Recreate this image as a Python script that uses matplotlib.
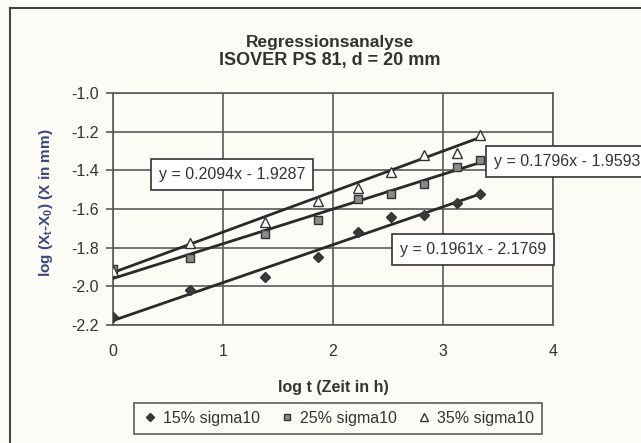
import matplotlib
matplotlib.use("Agg")
import matplotlib.pyplot as plt
from matplotlib.lines import Line2D
import numpy as np

plt.rcParams['font.family'] = ['Liberation Sans', 'DejaVu Sans']

# ---- data ----
log_t = [0.0, 0.70, 1.38, 1.86, 2.23, 2.53, 2.83, 3.13, 3.34]
y_15 = [-2.16, -2.02, -1.95, -1.85, -1.72, -1.64, -1.63, -1.57, -1.52]
y_25 = [-1.91, -1.855, -1.73, -1.655, -1.55, -1.52, -1.47, -1.385, -1.345]
y_35 = [-1.92, -1.775, -1.665, -1.56, -1.49, -1.41, -1.32, -1.31, -1.215]
series_names = ["15% sigma10", "25% sigma10", "35% sigma10"]
slopes = [0.1961, 0.1796, 0.2094]
intercepts = [-2.1769, -1.9593, -1.9287]
eq_labels = ["y = 0.1961x - 2.1769", "y = 0.1796x - 1.9593", "y = 0.2094x - 1.9287"]
x_ticks = [0, 1, 2, 3, 4]
y_ticks = [-1.0, -1.2, -1.4, -1.6, -1.8, -2.0, -2.2]

W, H = 641, 443
bg = "#fcfbf6"
dark = "#2a2a2a"
grid = "#5a5a5a"

fig = plt.figure(figsize=(W / 100, H / 100), dpi=100, facecolor=bg)
ax = fig.add_axes([113 / W, 1 - 325 / H, 440 / W, 232 / H], facecolor=bg)

ax.set_xlim(0, 4)
ax.set_ylim(-2.2, -1.0)
ax.set_xticks(x_ticks)
ax.set_yticks(y_ticks)
ax.set_xticklabels([str(v) for v in x_ticks])
ax.set_yticklabels([f"{v:.1f}" for v in y_ticks])
ax.grid(True, color=grid, lw=1.2)
ax.set_axisbelow(True)
for s in ax.spines.values():
    s.set_color(grid)
    s.set_linewidth(1.2)
ax.tick_params(axis='x', length=0, pad=14, labelsize=11.5, labelcolor="#333333")
ax.tick_params(axis='y', length=5, width=1.2, color=grid, pad=5, labelsize=11.5,
               labelcolor="#333333")

ys = [y_15, y_25, y_35]
markers = ['D', 's', '^']
msizes = [5, 6, 7.5]
faces = ["#3a3a3a", "#8a8a8a", "white"]

# trend lines
xl = np.array([min(log_t), max(log_t)])
for m, b in zip(slopes, intercepts):
    ax.plot(xl, m * xl + b, color=dark, lw=2.0, zorder=3)

handles = []
for y, mk, ms, fc, name in zip(ys, markers, msizes, faces, series_names):
    h, = ax.plot(log_t, y, linestyle='none', marker=mk, ms=ms, mfc=fc, mec="#333333",
                 mew=1.0, zorder=4, label=name)
    handles.append(h)

# equation boxes
box = dict(boxstyle="square,pad=0.5", fc="white", ec="#333333", lw=1.2)
ax.text(3.274, -1.807, eq_labels[0], ha='center', va='center', fontsize=11.5,
        color="#333333", bbox=box, zorder=6)
ax.text(3.461, -1.354, eq_labels[1], ha='left', va='center', fontsize=11.5,
        color="#333333", bbox=box, zorder=6, clip_on=False)
ax.text(1.082, -1.424, eq_labels[2], ha='center', va='center', fontsize=11.5,
        color="#333333", bbox=box, zorder=6)

# labels & title
ax.set_xlabel("log t (Zeit in h)", fontsize=11.5, fontweight='bold', color="#333333",
              labelpad=15)
fig.text(46 / W, 1 - 203 / H, r"log (X$_\mathregular{t}$-X$_\mathregular{0}$) (X in mm)",
         rotation=90, ha='center', va='center', fontsize=11, fontweight='bold',
         color="#3b4680")
fig.text(330 / W, 1 - 42 / H, "Regressionsanalyse", ha='center', va='center',
         fontsize=12.5, fontweight='bold', color="#333333")
fig.text(330 / W, 1 - 61 / H, "ISOVER PS 81, d = 20 mm", ha='center', va='center',
         fontsize=13, fontweight='bold', color="#333333")

leg = fig.legend(handles=handles, loc='center', bbox_to_anchor=(338 / W, 1 - 418.5 / H),
                 ncol=3, fontsize=11.5, frameon=True, fancybox=False, handlelength=1.0,
                 handletextpad=0.3, columnspacing=1.2, borderpad=0.5,
                 markerscale=0.8)
leg.get_frame().set_edgecolor("#333333")
leg.get_frame().set_linewidth(1.2)
leg.get_frame().set_facecolor(bg)
for t in leg.get_texts():
    t.set_color("#333333")

# outer frame (top and left edges visible)
fig.add_artist(Line2D([10 / W, 1], [1 - 8 / H, 1 - 8 / H], transform=fig.transFigure,
                      color="#444444", lw=1.5))
fig.add_artist(Line2D([10 / W, 10 / W], [1 - 8 / H, 0], transform=fig.transFigure,
                      color="#444444", lw=1.5))

fig.savefig("out.png", dpi=100, facecolor=bg)
